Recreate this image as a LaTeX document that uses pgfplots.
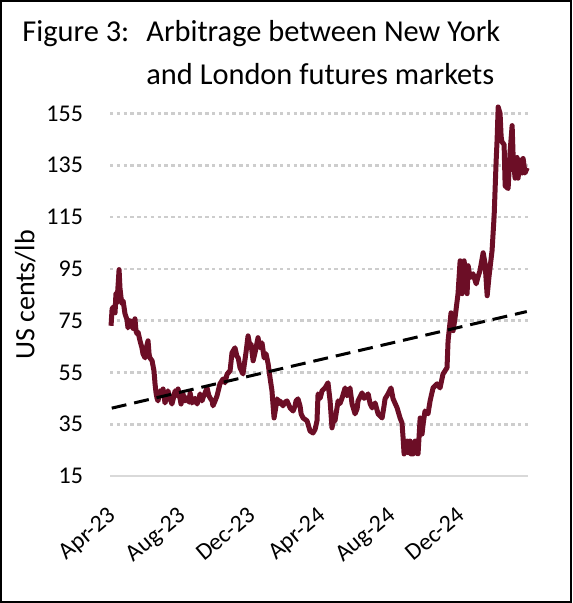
\documentclass[border=0pt]{standalone}
\usepackage{fontspec}
\setmainfont{Carlito}
\usepackage{pgfplots}
\pgfplotsset{compat=1.18}
\usepackage{pgfplotstable}
\definecolor{maroon}{RGB}{108,14,38}
\definecolor{gridc}{RGB}{205,205,205}
\definecolor{axisc}{RGB}{217,217,217}

% x = months since 1 Apr 2023, y = US cents/lb
\pgfplotstableread{
x y
-0.17 73.0
-0.11 79.6
0.00 80.4
0.06 78.0
0.11 85.4
0.17 82.0
0.29 94.7
0.34 87.7
0.40 84.0
0.46 81.5
0.52 82.7
0.63 77.6
0.74 75.5
0.80 72.2
0.92 75.0
1.03 74.2
1.09 72.0
1.20 75.7
1.26 71.0
1.32 69.9
1.38 70.5
1.49 67.2
1.60 64.5
1.66 62.2
1.78 60.6
1.83 64.0
1.95 67.2
2.01 62.0
2.06 60.6
2.18 59.5
2.29 55.6
2.35 50.6
2.41 47.0
2.46 45.2
2.52 44.0
2.64 47.9
2.75 46.0
2.81 48.6
2.92 43.2
3.04 46.0
3.09 47.9
3.21 45.0
3.32 42.8
3.44 46.0
3.50 47.9
3.61 46.0
3.67 48.6
3.78 45.0
3.84 42.8
3.95 46.7
4.07 44.0
4.18 45.2
4.30 43.5
4.36 47.1
4.47 43.2
4.64 45.0
4.76 42.8
4.87 45.0
4.93 46.7
5.04 44.0
5.10 45.2
5.21 47.0
5.33 49.0
5.44 46.0
5.50 45.2
5.62 44.0
5.67 42.1
5.79 44.0
5.90 45.9
6.07 50.6
6.25 52.5
6.36 51.0
6.48 54.4
6.65 55.6
6.76 62.6
6.93 64.5
7.05 61.0
7.11 60.8
7.22 56.8
7.39 54.4
7.56 62.6
7.68 69.1
7.79 65.0
7.85 66.0
7.97 59.5
8.08 62.6
8.25 68.4
8.37 64.5
8.48 66.4
8.60 60.6
8.71 62.2
8.83 58.3
8.94 52.9
9.05 47.9
9.17 37.4
9.28 42.0
9.34 44.8
9.46 43.0
9.51 44.0
9.68 42.1
9.80 43.5
9.91 44.0
10.09 41.3
10.26 40.1
10.37 42.0
10.43 44.0
10.54 44.8
10.66 42.0
10.72 39.0
10.83 37.4
11.06 36.3
11.23 32.4
11.40 31.6
11.52 33.0
11.63 36.3
11.69 46.7
11.81 45.0
11.92 47.9
12.09 49.0
12.26 51.0
12.38 44.0
12.49 33.6
12.55 36.0
12.66 36.3
12.84 44.0
12.95 43.0
13.07 45.2
13.24 49.0
13.35 46.0
13.41 46.7
13.52 49.0
13.64 42.8
13.81 39.0
13.93 41.0
13.98 44.0
14.21 47.1
14.33 45.0
14.38 45.2
14.56 46.7
14.67 43.0
14.79 41.3
14.96 43.2
15.13 39.0
15.36 37.4
15.47 42.0
15.53 44.8
15.70 46.7
15.87 49.0
15.99 44.8
16.22 41.3
16.39 37.4
16.50 35.5
16.56 30.0
16.62 23.5
16.73 27.0
16.79 28.5
16.85 24.0
16.96 28.5
17.02 23.5
17.13 23.5
17.25 28.5
17.31 24.0
17.42 23.5
17.54 37.4
17.65 31.2
17.71 35.1
17.82 40.1
17.99 39.0
18.11 44.0
18.28 49.0
18.51 50.6
18.68 49.0
18.85 54.4
19.08 56.8
19.14 67.2
19.31 78.0
19.43 71.1
19.54 76.1
19.71 85.4
19.83 98.1
19.94 85.4
20.06 98.1
20.23 85.4
20.29 96.2
20.40 91.6
20.57 93.1
20.75 89.2
20.86 92.0
20.97 94.3
21.15 101.2
21.26 97.0
21.38 84.6
21.49 92.3
21.66 102.0
21.78 115.5
21.89 136.0
21.95 145.0
22.01 157.5
22.12 155.0
22.18 146.0
22.23 144.0
22.35 143.0
22.41 127.0
22.58 126.0
22.69 140.0
22.81 150.3
22.87 138.0
22.98 130.0
23.09 138.0
23.15 130.0
23.27 137.0
23.38 132.0
23.44 137.6
23.55 132.0
23.67 134.0
}\pricedata

\begin{document}
\begin{tikzpicture}
\useasboundingbox (0,0) rectangle (286pt,301.5pt);
\draw[line width=1pt] (0.5pt,0.5pt) rectangle (285.5pt,301pt);
\node[anchor=base west, inner sep=0pt, font=\fontsize{15.2}{18}\selectfont] at (11pt,280.5pt) {Figure 3:};
\node[anchor=base west, inner sep=0pt, font=\fontsize{15.2}{18}\selectfont] at (73pt,280.5pt) {Arbitrage between New York};
\node[anchor=base west, inner sep=0pt, font=\fontsize{15.2}{18}\selectfont] at (73pt,259pt) {and London futures markets};
\begin{axis}[
  at={(55pt,63.5pt)}, anchor=south west,
  scale only axis, width=209pt, height=187.75pt,
  xmin=-0.23, xmax=23.72, ymin=15, ymax=160,
  axis line style={draw=none},
  ytick={35,55,...,155},
  extra y ticks={15},
  extra y tick style={grid=none},
  xtick={0,4,8,12,16,20},
  xticklabels={Apr-23,Aug-23,Dec-23,Apr-24,Aug-24,Dec-24},
  major tick length=0pt,
  ymajorgrids,
  major grid style={gridc, line width=1.3pt, dash pattern=on 1.7pt off 1.7pt},
  /pgf/number format/assume math mode=true,
  yticklabel style={font=\fontsize{12}{14}\selectfont, xshift=-10pt},
  xticklabel style={font=\fontsize{12}{14}\selectfont, xshift=-3pt, yshift=-10pt, rotate=40, anchor=north east},
  ylabel={US cents/lb},
  every axis y label/.style={at={(axis description cs:-0.203,0.482)}, rotate=90, anchor=center, font=\fontsize{14}{16}\selectfont},
  clip=false,
]
\draw[axisc, line width=1pt] (axis cs:-0.23,15) -- (axis cs:23.72,15);
\addplot[maroon, line width=2.5pt, line join=round] table {\pricedata};
\addplot[black, line width=1.5pt, dash pattern=on 7.5pt off 4pt] coordinates {(-0.13,41.2) (23.65,78.5)};
\end{axis}
\end{tikzpicture}
\end{document}
